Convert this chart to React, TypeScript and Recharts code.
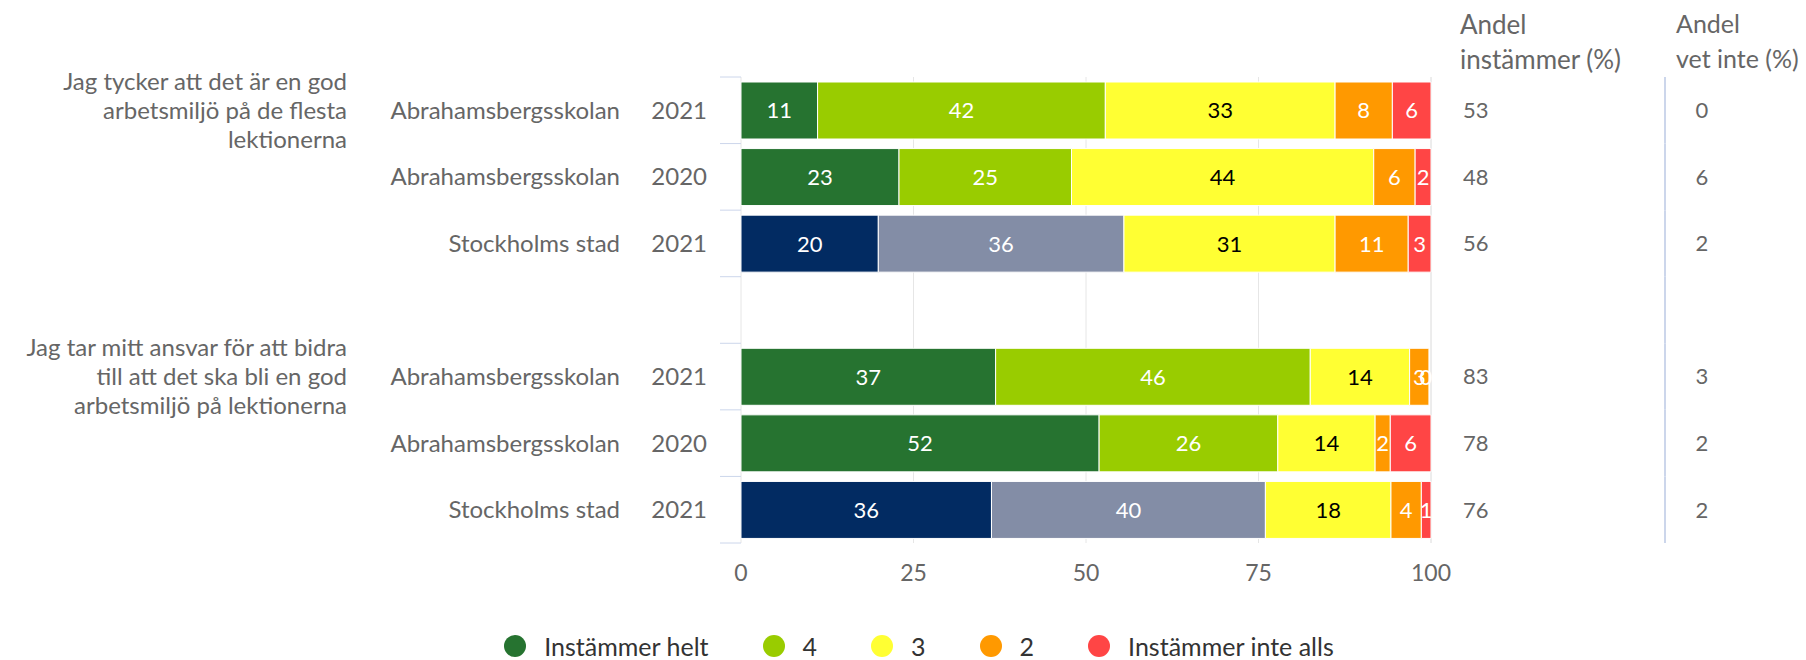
import { BarChart, Bar, XAxis, YAxis, CartesianGrid, Legend, LabelList, Cell } from "recharts";

// rows, top to bottom (row 3 is the empty gap between the two questions)
const rowKeys = ["q1-2021", "q1-2020", "q1-sthlm", "gap", "q2-2021", "q2-2020", "q2-sthlm"];
const units = ["Abrahamsbergsskolan", "Abrahamsbergsskolan", "Stockholms stad", "", "Abrahamsbergsskolan", "Abrahamsbergsskolan", "Stockholms stad"];
const years = ["2021", "2020", "2021", "", "2021", "2020", "2021"];
const isCity = [false, false, true, false, false, false, true];

const questions: Record<number, string[]> = {
  0: ["Jag tycker att det är en god", "arbetsmiljö på de flesta", "lektionerna"],
  4: ["Jag tar mitt ansvar för att bidra", "till att det ska bli en god", "arbetsmiljö på lektionerna"],
};

// percent per answer
const helt = [11.1, 22.9, 19.9, null, 36.9, 51.9, 36.3];
const fyra = [41.7, 25.0, 35.6, null, 45.6, 25.9, 39.7];
const tre = [33.3, 43.8, 30.6, null, 14.4, 14.1, 18.2];
const tva = [8.3, 6.0, 10.6, null, 2.8, 2.2, 4.4];
const inteAlls = [5.6, 2.3, 3.3, null, 0, 5.9, 1.4];

const andelInstammer = [53, 48, 56, null, 83, 78, 76];
const andelVetInte = [0, 6, 2, null, 3, 2, 2];

const xTicks = [0, 25, 50, 75, 100];

const seriesKeys = ["helt", "fyra", "tre", "tva", "inteAlls"];
const seriesValues = [helt, fyra, tre, tva, inteAlls];
const seriesNames = ["Instämmer helt", "4", "3", "2", "Instämmer inte alls"];
const seriesColors = ["#267330", "#99cc00", "#ffff33", "#ff9900", "#ff4545"];
const cityColors = ["#022b62", "#838da6"];
const labelColors = ["#ffffff", "#ffffff", "#000000", "#ffffff", "#ffffff"];

const data = rowKeys.map((key, i) => ({
  key,
  helt: helt[i],
  fyra: fyra[i],
  tre: tre[i],
  tva: tva[i],
  inteAlls: inteAlls[i],
}));

const TEXT = "#666666";
const FONT = 22;
const CAT_FONT = 24;

function LeftTick(props: any) {
  const { x, y, payload, index } = props;
  const half = payload?.offset ?? 33;
  const q = questions[index];
  return (
    <g>
      <line x1={x - 21} x2={x} y1={y - half} y2={y - half} stroke="#ccd6eb" strokeWidth={1} />
      {index === rowKeys.length - 1 && (
        <line x1={x - 21} x2={x} y1={y + half} y2={y + half} stroke="#ccd6eb" strokeWidth={1} />
      )}
      <text x={x - 34} y={y} dy="0.36em" textAnchor="end" fill={TEXT} fontSize={CAT_FONT}>
        {years[index]}
      </text>
      <text x={x - 121} y={y} dy="0.36em" textAnchor="end" fill={TEXT} fontSize={CAT_FONT}>
        {units[index]}
      </text>
      {q &&
        q.map((line, j) => (
          <text key={j} x={x - 394} y={y + (j - 1) * 29} dy="0.36em" textAnchor="end" fill={TEXT} fontSize={CAT_FONT}>
            {line}
          </text>
        ))}
    </g>
  );
}

function RightTick(props: any) {
  const { x, y, payload, index } = props;
  const half = payload?.offset ?? 33;
  const a = andelInstammer[index];
  const v = andelVetInte[index];
  return (
    <g>
      <line x1={x + 234} x2={x + 234} y1={y - half} y2={y + half} stroke="#ccd6eb" strokeWidth={2} />
      {index === 0 && (
        <g fill={TEXT}>
          <text x={x + 29} y={y - 86} dy="0.36em" fontSize={26}>Andel</text>
          <text x={x + 29} y={y - 51} dy="0.36em" fontSize={26}>instämmer (%)</text>
          <text x={x + 245} y={y - 86} dy="0.36em" fontSize={25}>Andel</text>
          <text x={x + 245} y={y - 51} dy="0.36em" fontSize={25}>vet inte (%)</text>
        </g>
      )}
      {a != null && (
        <text x={x + 32} y={y} dy="0.36em" fill={TEXT} fontSize={FONT}>
          {a}
        </text>
      )}
      {v != null && (
        <text x={x + 271} y={y} dy="0.36em" textAnchor="middle" fill={TEXT} fontSize={FONT}>
          {v}
        </text>
      )}
    </g>
  );
}

// labels are centred in their segment; a label wider than its segment is pulled back towards the bar end.
// a zero segment gets no rectangle, so its "0" is drawn at the end of the segment before it.
const makeLabel = (si: number) => {
  // the label index counts only the rows that have a bar
  const filledRows = rowKeys.map((_, i) => i).filter((i) => seriesValues[si][i] != null);
  return (props: any) => {
    const { value, index } = props;
    if (value == null) return null;
    const vb = props.viewBox ?? props;
    const text = String(Math.round(value));
    const halfText = text.length * 6;
    let cx = vb.x + vb.width / 2;
    if (vb.width < halfText * 2) cx = Math.min(cx, vb.x + vb.width - halfText + 3);
    const cy = vb.y + vb.height / 2;
    const row = props.payload?.key != null ? rowKeys.indexOf(props.payload.key) : filledRows[index];
    const next = seriesValues[si + 1];
    const nextIsZero = next != null && row != null && next[row] === 0;
    return (
      <g>
        <text x={cx} y={cy} dy="0.36em" textAnchor="middle" fill={labelColors[si]} fontSize={FONT}>
          {text}
        </text>
        {nextIsZero && (
          <text x={vb.x + vb.width - 3} y={cy} dy="0.36em" textAnchor="middle" fill={labelColors[si + 1]} fontSize={FONT}>
            0
          </text>
        )}
      </g>
    );
  };
};

function LegendContent() {
  return (
    <div
      style={{
        height: 40,
        paddingTop: 12,
        paddingLeft: 32,
        boxSizing: "border-box",
        display: "flex",
        justifyContent: "center",
        alignItems: "center",
        gap: 54,
      }}
    >
      {seriesNames.map((name, i) => (
        <div key={name} style={{ display: "flex", alignItems: "center", height: 28 }}>
          <span
            style={{
              width: 22,
              height: 22,
              borderRadius: "50%",
              background: seriesColors[i],
              display: "inline-block",
              marginRight: 18,
            }}
          />
          <span style={{ fontSize: 25, color: "#333333" }}>{name}</span>
        </div>
      ))}
    </div>
  );
}

export default function App() {
  return (
    <div style={{ position: "absolute", left: 0, top: 0, fontFamily: "Lato, sans-serif" }}>
      <BarChart
        width={1806}
        height={660}
        data={data}
        layout="vertical"
        margin={{ top: 77, right: 0, bottom: 0, left: 0 }}
        barCategoryGap={5}
      >
        <CartesianGrid horizontal={false} stroke="#e6e6e6" />
        <XAxis
          type="number"
          domain={[0, 100]}
          ticks={xTicks}
          height={77}
          axisLine={false}
          tickLine={false}
          tickSize={0}
          tickMargin={22}
          tick={{ fontSize: 23, fill: TEXT }}
        />
        <YAxis
          type="category"
          dataKey="key"
          width={741}
          axisLine={false}
          tickLine={false}
          tickSize={0}
          tickMargin={0}
          interval={0}
          tick={<LeftTick />}
        />
        <YAxis
          yAxisId="right"
          orientation="right"
          type="category"
          dataKey="key"
          width={375}
          axisLine={false}
          tickLine={false}
          tickSize={0}
          tickMargin={0}
          interval={0}
          tick={<RightTick />}
        />
        <Legend verticalAlign="bottom" content={<LegendContent />} />
        {seriesKeys.map((k, si) => (
          <Bar
            key={k}
            dataKey={k}
            name={seriesNames[si]}
            stackId="a"
            fill={seriesColors[si]}
            stroke="#ffffff"
            strokeWidth={1}
            isAnimationActive={false}
          >
            {data.map((_, i) => (
              <Cell key={i} fill={isCity[i] && si < 2 ? cityColors[si] : seriesColors[si]} />
            ))}
            <LabelList dataKey={k} content={makeLabel(si)} />
          </Bar>
        ))}
      </BarChart>
    </div>
  );
}
